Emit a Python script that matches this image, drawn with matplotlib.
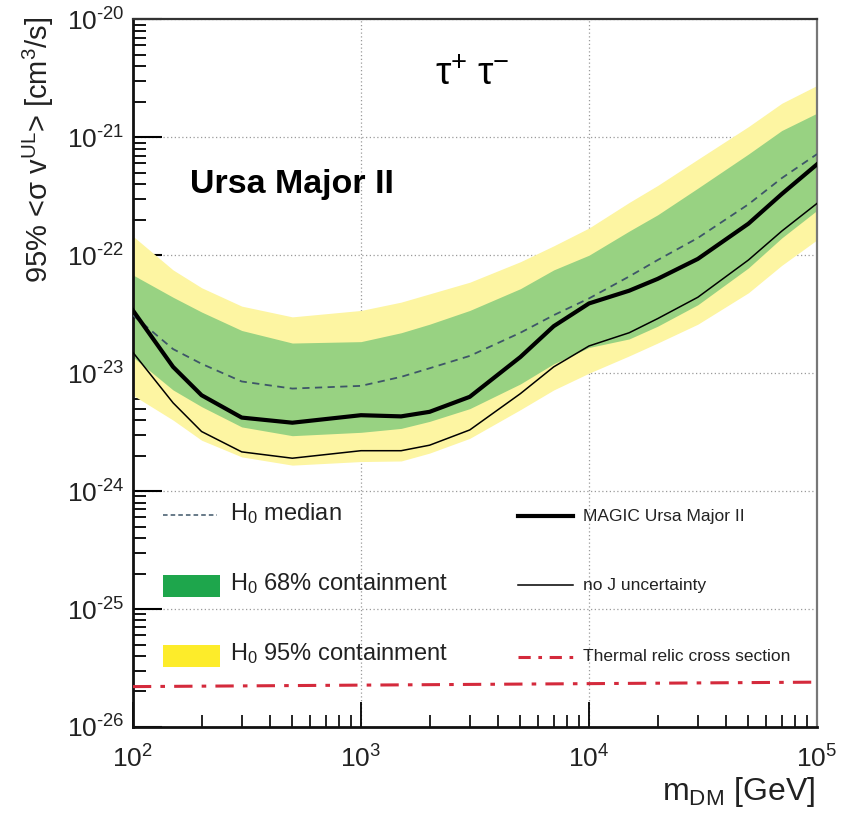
import numpy as np
import matplotlib
matplotlib.use("Agg")
import matplotlib.pyplot as plt
from matplotlib.patches import Rectangle
from matplotlib.lines import Line2D
from matplotlib.ticker import LogLocator, NullFormatter, FixedLocator, FuncFormatter

plt.rcParams['font.family'] = ['Liberation Sans', 'DejaVu Sans']
plt.rcParams['mathtext.fontset'] = 'custom'
plt.rcParams['mathtext.rm'] = 'Liberation Sans'
plt.rcParams['mathtext.it'] = 'Liberation Sans:italic'
plt.rcParams['mathtext.default'] = 'regular'
plt.rcParams['axes.unicode_minus'] = False

# dark matter mass [GeV]
mass = [100, 150, 200, 300, 500, 1000, 1500, 2000, 3000, 5000, 7000,
        10000, 15000, 20000, 30000, 50000, 70000, 100000]

# MAGIC Ursa Major II limit (thick) and without J uncertainty (thin)
magic_ul = [3.4e-23, 1.13e-23, 6.5e-24, 4.2e-24, 3.8e-24, 4.4e-24, 4.3e-24, 4.7e-24,
            6.3e-24, 1.37e-23, 2.5e-23, 3.9e-23, 5.0e-23, 6.3e-23, 9.3e-23, 1.85e-22,
            3.3e-22, 5.9e-22]
noj_ul = [1.5e-23, 5.6e-24, 3.2e-24, 2.15e-24, 1.9e-24, 2.2e-24, 2.2e-24, 2.45e-24,
          3.3e-24, 6.7e-24, 1.13e-23, 1.7e-23, 2.2e-23, 2.9e-23, 4.4e-23, 9.1e-23,
          1.6e-22, 2.75e-22]

# H0 expectations
h0_median = [3.1e-23, 1.6e-23, 1.2e-23, 8.5e-24, 7.4e-24, 7.8e-24, 9.3e-24, 1.1e-23,
             1.4e-23, 2.2e-23, 3.1e-23, 4.3e-23, 6.6e-23, 9.1e-23, 1.4e-22, 2.7e-22,
             4.5e-22, 7.2e-22]
h0_68_hi = [6.8e-23, 4.4e-23, 3.3e-23, 2.3e-23, 1.8e-23, 1.85e-23, 2.2e-23, 2.6e-23,
            3.4e-23, 5.2e-23, 7.5e-23, 1.0e-22, 1.6e-22, 2.2e-22, 3.7e-22, 7.2e-22,
            1.14e-21, 1.6e-21]
h0_68_lo = [1.37e-23, 7.2e-24, 5.2e-24, 3.5e-24, 2.95e-24, 3.15e-24, 3.4e-24, 3.9e-24,
            5.0e-24, 8.1e-24, 1.2e-23, 1.65e-23, 1.95e-23, 2.5e-23, 3.8e-23, 7.8e-23,
            1.4e-22, 2.4e-22]
h0_95_hi = [1.45e-22, 7.5e-23, 5.3e-23, 3.7e-23, 3.0e-23, 3.4e-23, 4.0e-23, 4.7e-23,
            5.9e-23, 8.8e-23, 1.2e-22, 1.7e-22, 2.8e-22, 3.9e-22, 6.5e-22, 1.23e-21,
            1.94e-21, 2.75e-21]
h0_95_lo = [6.5e-24, 4.0e-24, 2.7e-24, 1.95e-24, 1.66e-24, 1.78e-24, 1.8e-24, 2.1e-24,
            2.8e-24, 4.9e-24, 7.2e-24, 1.0e-23, 1.4e-23, 1.8e-23, 2.6e-23, 4.8e-23,
            8.2e-23, 1.35e-22]

# thermal relic cross section
relic_mass = [100, 100000]
relic_xs = [2.2e-26, 2.4e-26]

# axis decades
x_decades = [1e2, 1e3, 1e4, 1e5]
y_decades = [1e-26, 1e-25, 1e-24, 1e-23, 1e-22, 1e-21, 1e-20]

green_band = '#98d282'
yellow_band = '#fdf5a2'
green_patch = '#1ea64c'
yellow_patch = '#fdec2a'
red = '#d42a3c'
median_col = '#3e5668'


def pow10(v, pos):
    e = int(round(np.log10(v)))
    if e < 0:
        return r'$10^{\text{-%d}}$' % (-e)
    return r'$10^{%d}$' % e


fig = plt.figure(figsize=(8.52, 8.21), dpi=100)
ax = fig.add_axes([0.156, 0.1145, 0.803, 0.862])

ax.fill_between(mass, h0_95_lo, h0_95_hi, color=yellow_band, lw=0, zorder=1)
ax.fill_between(mass, h0_68_lo, h0_68_hi, color=green_band, lw=0, zorder=2)
ax.plot(mass, h0_median, color=median_col, lw=1.3, dashes=(4, 3), zorder=4)
ax.plot(mass, noj_ul, color='black', lw=1.1, zorder=4)
ax.plot(mass, magic_ul, color='black', lw=3.0, zorder=5)
ax.plot(relic_mass, relic_xs, color=red, lw=2.2, dashes=(6, 3, 1.5, 3), zorder=4)

ax.set_xscale('log')
ax.set_yscale('log')
ax.set_xlim(100, 1e5)
ax.set_ylim(1e-26, 1e-20)

ax.xaxis.set_major_locator(FixedLocator(x_decades))
ax.yaxis.set_major_locator(FixedLocator(y_decades))
ax.xaxis.set_major_formatter(FuncFormatter(pow10))
ax.yaxis.set_major_formatter(FuncFormatter(pow10))

ax.grid(True, which='major', color='#9a9a9a', ls=(0, (1, 2)), lw=0.9, zorder=0)
ax.set_axisbelow(True)

ax.yaxis.set_minor_locator(LogLocator(base=10, subs=np.arange(2, 10), numticks=20))
ax.xaxis.set_minor_locator(LogLocator(base=10, subs=np.arange(2, 10), numticks=20))
ax.yaxis.set_minor_formatter(NullFormatter())
ax.xaxis.set_minor_formatter(NullFormatter())

ax.tick_params(axis='y', which='major', direction='in', length=21, width=1.5,
               labelsize=19, pad=6, right=False)
ax.tick_params(axis='y', which='minor', direction='in', length=9.5, width=1.3, right=False)
ax.tick_params(axis='x', which='major', direction='in', length=18, width=1.3,
               labelsize=19, pad=13, top=False)
ax.tick_params(axis='x', which='minor', direction='in', length=8.5, width=1.2, top=False)
for t in ax.get_xticklabels() + ax.get_yticklabels():
    t.set_color('#222222')

for s in ['left', 'bottom']:
    ax.spines[s].set_linewidth(2.0)
    ax.spines[s].set_color('#111111')
ax.spines['top'].set_linewidth(1.6)
ax.spines['top'].set_color('#333333')
ax.spines['right'].set_linewidth(1.6)
ax.spines['right'].set_color('#777777')

ax.set_ylabel(r'95% <σ v$^{UL}$> [cm$^{3}$/s]', fontsize=21, loc='top', color='#222222')
ax.yaxis.set_label_coords(-0.112, 1.004)
ax.set_xlabel(r'm$_{DM}$ [GeV]', fontsize=23, loc='right', color='#222222')
ax.xaxis.set_label_coords(0.997, -0.068)

ax.text(0.496, 0.921, r'$\tau^{+}\ \tau^{-}$', transform=ax.transAxes, fontsize=28,
        ha='center', va='center', math_fontfamily='stix')
ax.text(0.083, 0.766, 'Ursa Major II', transform=ax.transAxes, fontsize=24.5,
        fontweight='bold', ha='left', va='center')

# legend, left column
ax.add_line(Line2D([0.044, 0.123], [0.299, 0.299], transform=ax.transAxes,
                   color=median_col, lw=1.1, dashes=(3, 2), zorder=6))
ax.text(0.142, 0.301, r'H$_0$ median', transform=ax.transAxes, fontsize=17,
        ha='left', va='center', color='#222222')
ax.add_patch(Rectangle((0.044, 0.184), 0.083, 0.031, transform=ax.transAxes,
                       color=green_patch, lw=0, zorder=6))
ax.text(0.142, 0.203, r'H$_0$ 68% containment', transform=ax.transAxes, fontsize=17,
        ha='left', va='center', color='#222222')
ax.add_patch(Rectangle((0.044, 0.085), 0.083, 0.031, transform=ax.transAxes,
                       color=yellow_patch, lw=0, zorder=6))
ax.text(0.142, 0.104, r'H$_0$ 95% containment', transform=ax.transAxes, fontsize=17,
        ha='left', va='center', color='#222222')

# legend, right column
ax.add_line(Line2D([0.563, 0.643], [0.298, 0.298], transform=ax.transAxes,
                   color='black', lw=3.0, zorder=6))
ax.text(0.658, 0.298, 'MAGIC Ursa Major II', transform=ax.transAxes, fontsize=12.5,
        ha='left', va='center', color='#222222')
ax.add_line(Line2D([0.563, 0.643], [0.2, 0.2], transform=ax.transAxes,
                   color='black', lw=1.1, zorder=6))
ax.text(0.658, 0.2, 'no J uncertainty', transform=ax.transAxes, fontsize=12.5,
        ha='left', va='center', color='#222222')
ax.add_line(Line2D([0.563, 0.643], [0.099, 0.099], transform=ax.transAxes,
                   color=red, lw=2.2, dashes=(4, 2.5, 1.2, 2.5), zorder=6))
ax.text(0.658, 0.1, 'Thermal relic cross section', transform=ax.transAxes, fontsize=12.5,
        ha='left', va='center', color='#222222')

fig.savefig('out.png', dpi=100)
